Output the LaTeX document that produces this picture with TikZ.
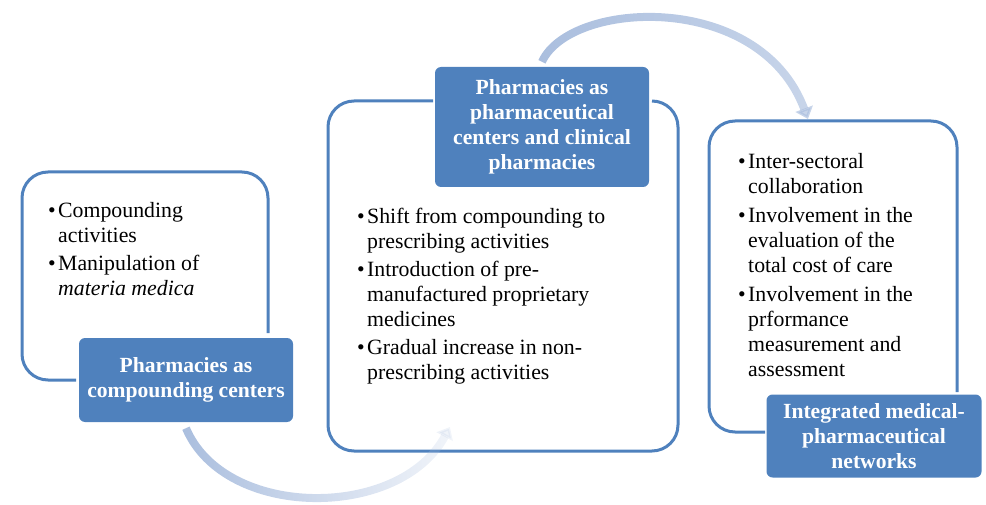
\documentclass[tikz,border=0pt]{standalone}
\usepackage{fontspec}
\setmainfont{Liberation Serif}
\usetikzlibrary{arrows.meta,fadings}
\definecolor{boxblue}{RGB}{79,129,189}
\definecolor{arrowblue}{RGB}{170,190,222}
\tikzfading[name=fadeone, left color=transparent!0, right color=transparent!85]
\tikzfading[name=fadetwo, left color=transparent!0, right color=transparent!35]
\newcommand{\bitem}{\makebox[10pt][l]{\textbullet}}
\newcommand{\bindent}{\hspace*{10pt}}
\tikzset{
  outline/.style={draw=boxblue, line width=3pt, rounded corners=26pt},
  titlebox/.style={fill=boxblue, rounded corners=6pt, text=white, align=center, inner sep=0pt,
    font=\bfseries\fontsize{21.6}{25}\selectfont},
  bodytext/.style={anchor=north west, inner sep=0pt, align=left, text=black,
    font=\fontsize{21.8}{25}\selectfont},
  flow/.style={draw=arrowblue, line width=8pt, -{Triangle[width=18pt,length=11pt]}}
}
\begin{document}
\begin{tikzpicture}[x=1pt,y=-1pt]
\useasboundingbox (0,0) rectangle (986,505);
% outlines
\draw[outline] (268,333) -- (268,172) -- (22,172) -- (22,380) -- (76,380);
\draw[outline] (652,101) -- (678,101) -- (678,451) -- (328,451) -- (328,101) -- (433,101);
\draw[outline] (957,392) -- (957,121) -- (709,121) -- (709,432) -- (765,432);
% title boxes
\node[titlebox, minimum width=214pt, minimum height=84pt] (t1) at (186,380) {Pharmacies as\\compounding centers};
\node[titlebox, minimum width=214pt, minimum height=120pt] (t2) at (542,127) {Pharmacies as\\pharmaceutical\\centers and clinical\\pharmacies};
\node[titlebox, minimum width=215pt, minimum height=83pt] (t3) at (874,436) {Integrated medical-\\pharmaceutical\\networks};
% body texts
\node[bodytext] (b1) at (48,202) {\bitem Compounding\\\bindent activities\\[3pt]\bitem Manipulation of\\\bindent\textit{materia medica}};
\node[bodytext] (b2) at (357,208) {\bitem Shift from compounding to\\\bindent prescribing activities\\[3pt]\bitem Introduction of pre-\\\bindent manufactured proprietary\\\bindent medicines\\[3pt]\bitem Gradual increase in non-\\\bindent prescribing activities};
\node[bodytext] (b3) at (738,153) {\bitem Inter-sectoral\\\bindent collaboration\\[4pt]\bitem Involvement in the\\\bindent evaluation of the\\\bindent total cost of care\\[4pt]\bitem Involvement in the\\\bindent prformance\\\bindent measurement and\\\bindent assessment};
% arrows
\coordinate (a1e) at (450,427);
\coordinate (a2e) at (808,119);
\draw[flow, path fading=fadeone, fit fading=true] ([yshift=-6pt]t1.south) .. controls (225,520) and (400,520) .. (a1e);
\draw[flow, path fading=fadetwo, fit fading=true] ([yshift=5pt]t2.north) .. controls (570,0) and (760,-10) .. (a2e);
\end{tikzpicture}
\end{document}
